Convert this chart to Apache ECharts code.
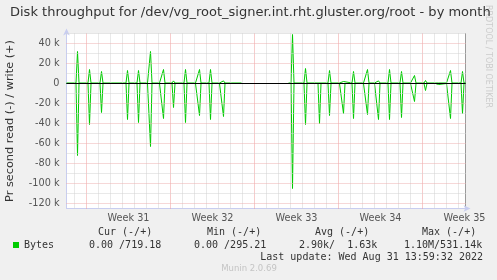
<!DOCTYPE html>
<html><head><meta charset="utf-8">
<script src="https://cdn.jsdelivr.net/npm/echarts@6/dist/echarts.min.js"></script>
<style>html,body{margin:0;padding:0;background:#f0f0f0;}#c{width:497px;height:280px;}</style>
</head><body><div id="c"></div>
<script>
// ---- text ----
const titleText = 'Disk throughput for /dev/vg_root_signer.int.rht.gluster.org/root - by month';
const yAxisName = 'Pr second read (-) / write (+)';
const weekLabels = ['Week 31', 'Week 32', 'Week 33', 'Week 34', 'Week 35'];
const seriesName = 'Bytes';
const statHeaders = ['Cur (-/+)', 'Min (-/+)', 'Avg (-/+)', 'Max (-/+)'];
const statValues = ['0.00 /719.18', '0.00 /295.21', '2.90k/  1.63k', '1.10M/531.14k'];
const lastUpdate = 'Last update: Wed Aug 31 13:59:32 2022';
const footerText = 'Munin 2.0.69';
const watermark = 'RRDTOOL / TOBI OETIKER';

// ---- data: hours from start of Week 31, bytes/s ----
const hours = [-40,-21,-18,-15,3,6,9,27,30,33,50,52,54,72,74,76,79,82,85,101,104,107,
  122,124,126,128,131,146,148,150,151,154,157,171,174,177,195,198,201,218,220,222,223,226,229,
  245,248,251,266,268,270,271,274,277,290,292,294,310,350,
  404,409,412,415,435,438,441,463,466,469,483,486,489,506,508,510,511,514,517,531,534,537,
  554,556,558,559,562,565,576,578,580,581,584,587,603,606,609,627,630,633,648,650,652,653,656,659,
  675,678,681,698,700,704,706,720,722,724,725,728,731,749,752,755,758];
const writeBps = [500,500,32000,500,500,14000,500,500,12000,500,500,500,500,500,500,500,500,13000,500,500,13000,500,
  500,500,500,32000,500,500,500,500,500,14000,500,500,2600,500,500,14000,500,500,500,500,500,14000,500,
  500,14000,500,500,500,500,500,2600,500,500,500,500,500,null,
  500,500,49000,500,500,15000,500,500,2000,500,500,13000,500,500,500,500,500,2000,500,500,12000,500,
  500,500,500,500,14000,500,500,500,500,500,2600,500,500,14000,500,500,12000,500,500,500,500,500,8000,500,
  500,3000,500,500,500,500,500,500,500,500,500,13000,500,500,12000,500,500];
const readBps = [0,0,72000,0,0,41000,0,0,29000,0,0,1500,0,0,1500,0,0,36000,0,0,39000,0,
  0,1500,0,63000,0,0,1500,0,0,35000,0,0,24000,0,0,39000,0,0,1500,0,0,32000,0,
  0,36000,0,0,1500,0,0,33000,0,0,1500,0,0,null,
  0,0,105000,0,0,41000,0,0,40000,0,0,32000,0,0,1500,0,0,30000,0,0,35000,0,
  0,1500,0,0,31000,0,0,1500,0,0,36000,0,0,36000,0,0,34000,0,0,1500,0,0,18000,0,
  0,7000,0,0,1000,1000,0,0,1500,0,0,35000,0,0,30000,0,0];

// ---- axis ranges ----
const xMin = -40, xMax = 758, xStep = 4, dayH = 24, weekH = 168, firstLabelH = 84;
const yMin = -125000, yMax = 50000, yStep = 5000, yMinor = 10000, yMajor = 20000;

const vMajorColor = '#f09a9a', hMajorColor = '#ecb0b0', minorColor = '#d2d2d2';
const gridLines = [];
for (let h = Math.ceil(xMin / dayH) * dayH; h < xMax; h += dayH) {
  gridLines.push({xAxis: h, lineStyle: {color: h % weekH === 0 ? vMajorColor : minorColor}});
}
for (let v = Math.ceil(yMin / yMinor) * yMinor; v <= yMax; v += yMinor) {
  if (v === 0) continue;
  gridLines.push({yAxis: v, lineStyle: {color: v % yMajor === 0 ? hMajorColor : minorColor}});
}

const writeData = hours.map((h, i) => [h, writeBps[i] === null ? '-' : writeBps[i]]);
const readData = hours.map((h, i) => [h, readBps[i] === null ? '-' : -readBps[i]]);

const green = '#00cc00';
const sans = 'DejaVu Sans';
const mono = 'DejaVu Sans Mono';
const monoFont = '10px "DejaVu Sans Mono"';

const headerX = [98, 207, 315, 422];
const valueX = [89, 194, 299, 404];
const graphics = [];
statHeaders.forEach((t, i) => graphics.push({type: 'text', x: headerX[i], y: 232,
  style: {text: t, font: monoFont, fill: '#333', textAlign: 'left', textVerticalAlign: 'middle', verticalAlign: 'middle'}}));
statValues.forEach((t, i) => graphics.push({type: 'text', x: valueX[i], y: 245,
  style: {text: t, font: monoFont, fill: '#333', textAlign: 'left', textVerticalAlign: 'middle', verticalAlign: 'middle'}}));
graphics.push({type: 'text', x: 483, y: 257,
  style: {text: lastUpdate, font: monoFont, fill: '#333', textAlign: 'right', textVerticalAlign: 'middle', verticalAlign: 'middle'}});
graphics.push({type: 'text', x: 249, y: 268.5,
  style: {text: footerText, font: '8.5px "DejaVu Sans"', fill: '#c4c4c4', textAlign: 'center', textVerticalAlign: 'middle', verticalAlign: 'middle'}});
graphics.push({type: 'text', x: 488, y: 5, rotation: -Math.PI / 2,
  style: {text: watermark, font: '8px "DejaVu Sans"', fill: '#cccccc', textAlign: 'left', textVerticalAlign: 'middle', verticalAlign: 'middle'}});

const chart = echarts.init(document.getElementById('c'), null, {renderer: 'canvas'});
chart.setOption({
  animation: false,
  backgroundColor: '#f0f0f0',
  title: {text: titleText, left: 10, top: 6, padding: 0,
    textStyle: {fontFamily: sans, fontSize: 13, fontWeight: 'normal', color: '#333'}},
  legend: {data: [seriesName], left: 13, top: 239, padding: 0, icon: 'rect', itemWidth: 6, itemHeight: 6,
    selectedMode: false, textStyle: {fontFamily: mono, fontSize: 10, color: '#333', lineHeight: 12}},
  grid: {left: 66.5, top: 33.5, width: 399, height: 175, show: true, backgroundColor: '#ffffff', borderWidth: 0,
    containLabel: false, outerBoundsMode: 'none'},
  xAxis: {
    type: 'value', min: xMin, max: xMax, interval: xStep,
    axisLine: {show: true, onZero: false, lineStyle: {color: '#c8cdf0', width: 1}, symbol: ['none', 'arrow'], symbolSize: [5, 7], symbolOffset: [0, 5]},
    axisTick: {show: false},
    splitLine: {show: false},
    axisLabel: {show: true, interval: 0, margin: 5, fontFamily: sans, fontSize: 9.7, color: '#555',
      formatter: v => {
        const r = Math.round(v) - firstLabelH;
        if (r >= 0 && r % weekH === 0) return weekLabels[r / weekH] || '';
        return '';
      }}
  },
  yAxis: [{
    type: 'value', min: yMin, max: yMax, interval: yStep,
    name: yAxisName, nameLocation: 'middle', nameGap: 51,
    nameTextStyle: {fontFamily: sans, fontSize: 11.3, color: '#333'},
    axisLine: {show: true, onZero: false, lineStyle: {color: '#c8cdf0', width: 1}, symbol: ['none', 'arrow'], symbolSize: [5, 7], symbolOffset: [0, 5]},
    axisTick: {show: false},
    splitLine: {show: false},
    axisLabel: {show: true, margin: 7, fontFamily: sans, fontSize: 9.7, color: '#555',
      formatter: v => {
        const r = Math.round(v);
        if (r % yMajor !== 0) return '';
        return r === 0 ? '0' : (r / 1000) + ' k';
      }}
  }, {
    type: 'value', min: yMin, max: yMax, position: 'right',
    axisLine: {show: true, onZero: false, lineStyle: {color: '#9a9a9a', width: 1}},
    axisTick: {show: false}, axisLabel: {show: false}, splitLine: {show: false}
  }],
  series: [
    {name: 'grid', type: 'line', data: [], z: 1, silent: true,
      markLine: {silent: true, symbol: ['none', 'none'], label: {show: false}, animation: false,
        lineStyle: {width: 1, type: [1, 1]}, emphasis: {disabled: true}, data: gridLines}},
    {name: 'zero', type: 'line', data: [], z: 2, silent: true,
      markLine: {silent: true, symbol: ['none', 'none'], label: {show: false}, animation: false,
        lineStyle: {color: '#000', width: 1, type: 'solid'}, emphasis: {disabled: true}, data: [{yAxis: 0}]}},
    {name: seriesName, type: 'line', data: writeData, z: 3, showSymbol: false, connectNulls: false,
      lineStyle: {color: green, width: 1}, itemStyle: {color: green}},
    {name: seriesName + ' read', type: 'line', data: readData, z: 3, showSymbol: false, connectNulls: false,
      lineStyle: {color: green, width: 1}, itemStyle: {color: green}}
  ],
  graphic: graphics
});
</script>
</body></html>
